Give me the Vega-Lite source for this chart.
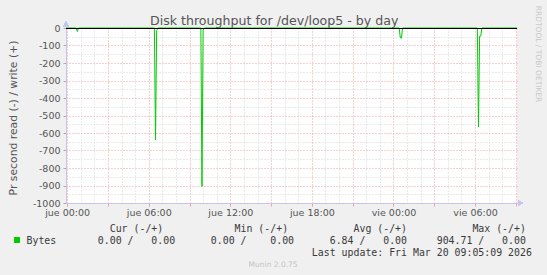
{
  "$schema": "https://vega.github.io/schema/vega-lite/v6.json",
  "width": 451,
  "height": 175,
  "autosize": {"type": "none"},
  "padding": {"left": 66, "top": 28, "right": 30, "bottom": 72},
  "background": "#f0f0f0",
  "config": {
    "view": {"fill": "#ffffff", "stroke": null},
    "axis": {"labelFont": "DejaVu Sans", "titleFont": "DejaVu Sans", "titleFontWeight": "normal"}
  },
  "data": {
    "values": [
      {"t": "2026-03-18T23:55:00", "v": 0},
      {"t": "2026-03-19T00:40:00", "v": 0},
      {"t": "2026-03-19T00:45:00", "v": -20},
      {"t": "2026-03-19T00:50:00", "v": 0},
      {"t": "2026-03-19T06:25:00", "v": 0},
      {"t": "2026-03-19T06:30:00", "v": -640},
      {"t": "2026-03-19T06:35:00", "v": -15},
      {"t": "2026-03-19T06:40:00", "v": 0},
      {"t": "2026-03-19T09:50:00", "v": 0},
      {"t": "2026-03-19T09:55:00", "v": -904.71},
      {"t": "2026-03-19T10:00:00", "v": -12},
      {"t": "2026-03-19T10:05:00", "v": 0},
      {"t": "2026-03-20T00:25:00", "v": 0},
      {"t": "2026-03-20T00:30:00", "v": -55},
      {"t": "2026-03-20T00:35:00", "v": -58},
      {"t": "2026-03-20T00:40:00", "v": 0},
      {"t": "2026-03-20T06:10:00", "v": 0},
      {"t": "2026-03-20T06:15:00", "v": -566},
      {"t": "2026-03-20T06:20:00", "v": -46},
      {"t": "2026-03-20T06:25:00", "v": -46},
      {"t": "2026-03-20T06:30:00", "v": 0},
      {"t": "2026-03-20T09:05:00", "v": 0}
    ]
  },
  "resolve": {"axis": {"x": "independent", "y": "independent"}},
  "layer": [
    {
      "mark": {"type": "line", "opacity": 0},
      "encoding": {
        "x": {
          "field": "t", "type": "temporal",
          "scale": {"domain": [{"year": 2026, "month": 3, "date": 18, "hours": 23, "minutes": 55}, {"year": 2026, "month": 3, "date": 20, "hours": 9, "minutes": 5}], "nice": false},
          "axis": {
            "orient": "bottom", "grid": true, "gridColor": "#d4d4d4", "gridDash": [1, 2], "gridWidth": 1,
            "values": [
              {"year": 2026, "month": 3, "date": 19, "hours": 1}, {"year": 2026, "month": 3, "date": 19, "hours": 2},
              {"year": 2026, "month": 3, "date": 19, "hours": 4}, {"year": 2026, "month": 3, "date": 19, "hours": 5},
              {"year": 2026, "month": 3, "date": 19, "hours": 7}, {"year": 2026, "month": 3, "date": 19, "hours": 8},
              {"year": 2026, "month": 3, "date": 19, "hours": 10}, {"year": 2026, "month": 3, "date": 19, "hours": 11},
              {"year": 2026, "month": 3, "date": 19, "hours": 13}, {"year": 2026, "month": 3, "date": 19, "hours": 14},
              {"year": 2026, "month": 3, "date": 19, "hours": 16}, {"year": 2026, "month": 3, "date": 19, "hours": 17},
              {"year": 2026, "month": 3, "date": 19, "hours": 19}, {"year": 2026, "month": 3, "date": 19, "hours": 20},
              {"year": 2026, "month": 3, "date": 19, "hours": 22}, {"year": 2026, "month": 3, "date": 19, "hours": 23},
              {"year": 2026, "month": 3, "date": 20, "hours": 1}, {"year": 2026, "month": 3, "date": 20, "hours": 2},
              {"year": 2026, "month": 3, "date": 20, "hours": 4}, {"year": 2026, "month": 3, "date": 20, "hours": 5},
              {"year": 2026, "month": 3, "date": 20, "hours": 7}, {"year": 2026, "month": 3, "date": 20, "hours": 8}
            ],
            "labels": false, "ticks": false, "domain": false,
            "title": "Munin 2.0.75", "titleFont": "DejaVu Sans", "titleFontSize": 7.5, "titleColor": "#c4c4c4",
            "titleX": 206.6, "titleY": 61, "titleAlign": "center", "titleBaseline": "middle", "titleAngle": 0
          }
        },
        "y": {
          "field": "v", "type": "quantitative",
          "scale": {"domain": [-1000, 0], "nice": false, "zero": false},
          "axis": {
            "orient": "left", "grid": true, "gridColor": "#d4d4d4", "gridDash": [1, 2], "gridWidth": 1,
            "values": [-950, -850, -750, -650, -550, -450, -350, -250, -150, -50],
            "labels": false, "ticks": false, "domain": false, "title": null
          }
        }
      }
    },
    {
      "mark": {"type": "line", "opacity": 0},
      "encoding": {
        "x": {
          "field": "t", "type": "temporal",
          "scale": {"domain": [{"year": 2026, "month": 3, "date": 18, "hours": 23, "minutes": 55}, {"year": 2026, "month": 3, "date": 20, "hours": 9, "minutes": 5}], "nice": false},
          "axis": {
            "orient": "bottom", "grid": true, "gridColor": "#f2a0a0", "gridDash": [1, 2], "gridWidth": 1,
            "values": [
              {"year": 2026, "month": 3, "date": 19, "hours": 0}, {"year": 2026, "month": 3, "date": 19, "hours": 3},
              {"year": 2026, "month": 3, "date": 19, "hours": 6}, {"year": 2026, "month": 3, "date": 19, "hours": 9},
              {"year": 2026, "month": 3, "date": 19, "hours": 12}, {"year": 2026, "month": 3, "date": 19, "hours": 15},
              {"year": 2026, "month": 3, "date": 19, "hours": 18}, {"year": 2026, "month": 3, "date": 19, "hours": 21},
              {"year": 2026, "month": 3, "date": 20, "hours": 0}, {"year": 2026, "month": 3, "date": 20, "hours": 3},
              {"year": 2026, "month": 3, "date": 20, "hours": 6}, {"year": 2026, "month": 3, "date": 20, "hours": 9}
            ],
            "labels": false, "ticks": true, "tickSize": 3, "tickColor": "#f2a0a0", "domain": false,
            "title": "Disk throughput for /dev/loop5 - by day", "titleFont": "DejaVu Sans", "titleFontSize": 12.6, "titleColor": "#555555",
            "titleX": 207.7, "titleY": -178.5, "titleAlign": "center", "titleBaseline": "alphabetic", "titleAngle": 0
          }
        },
        "y": {
          "field": "v", "type": "quantitative",
          "scale": {"domain": [-1000, 0], "nice": false, "zero": false},
          "axis": {
            "orient": "right", "grid": true, "gridColor": "#f2a0a0", "gridDash": [1, 2], "gridWidth": 1,
            "values": [-1000, -900, -800, -700, -600, -500, -400, -300, -200, -100, 0],
            "labels": false, "ticks": false, "domain": false,
            "title": "RRDTOOL / TOBI OETIKER", "titleFont": "DejaVu Sans", "titleFontSize": 7.5, "titleColor": "#c8c8c8",
            "titleX": 20.5, "titleY": 25.5, "titleAngle": 90, "titleAlign": "center", "titleBaseline": "middle"
          }
        }
      }
    },
    {
      "mark": {"type": "line", "strokeWidth": 1, "interpolate": "linear"},
      "encoding": {
        "x": {
          "field": "t", "type": "temporal",
          "scale": {"domain": [{"year": 2026, "month": 3, "date": 18, "hours": 23, "minutes": 55}, {"year": 2026, "month": 3, "date": 20, "hours": 9, "minutes": 5}], "nice": false},
          "axis": {
            "orient": "bottom", "grid": false,
            "values": [
              {"year": 2026, "month": 3, "date": 19, "hours": 0},
              {"year": 2026, "month": 3, "date": 19, "hours": 6},
              {"year": 2026, "month": 3, "date": 19, "hours": 12},
              {"year": 2026, "month": 3, "date": 19, "hours": 18},
              {"year": 2026, "month": 3, "date": 20, "hours": 0},
              {"year": 2026, "month": 3, "date": 20, "hours": 6}
            ],
            "labelExpr": "(day(datum.value) == 4 ? 'jue' : 'vie') + timeFormat(datum.value, ' %H:%M')",
            "labelFont": "DejaVu Sans", "labelFontSize": 9.5, "labelColor": "#555555", "labelPadding": 1.5,
            "ticks": true, "tickSize": 3, "tickColor": "#f2a0a0",
            "domain": true, "domainColor": "#c5c5f5", "domainWidth": 1,
            "title": [
              "\u200b\u00a0\u00a0\u00a0\u00a0\u00a0\u00a0\u00a0\u00a0\u00a0\u00a0\u00a0\u00a0\u00a0\u00a0Cur\u00a0(-/+)\u00a0\u00a0\u00a0\u00a0\u00a0\u00a0\u00a0\u00a0\u00a0\u00a0\u00a0\u00a0Min\u00a0(-/+)\u00a0\u00a0\u00a0\u00a0\u00a0\u00a0\u00a0\u00a0\u00a0\u00a0\u00a0Avg\u00a0(-/+)\u00a0\u00a0\u00a0\u00a0\u00a0\u00a0\u00a0\u00a0\u00a0\u00a0\u00a0Max\u00a0(-/+)",
              "Bytes\u00a0\u00a0\u00a0\u00a0\u00a0\u00a0\u00a00.00\u00a0/\u00a0\u00a0\u00a00.00\u00a0\u00a0\u00a0\u00a0\u00a0\u00a00.00\u00a0/\u00a0\u00a0\u00a0\u00a00.00\u00a0\u00a0\u00a0\u00a0\u00a0\u00a06.84\u00a0/\u00a0\u00a0\u00a00.00\u00a0\u00a0\u00a0\u00a0\u00a0904.71\u00a0/\u00a0\u00a0\u00a00.00",
              "\u200b\u00a0\u00a0\u00a0\u00a0\u00a0\u00a0\u00a0\u00a0\u00a0\u00a0\u00a0\u00a0\u00a0\u00a0\u00a0\u00a0\u00a0\u00a0\u00a0\u00a0\u00a0\u00a0\u00a0\u00a0\u00a0\u00a0\u00a0\u00a0\u00a0\u00a0\u00a0\u00a0\u00a0\u00a0\u00a0\u00a0\u00a0\u00a0\u00a0\u00a0\u00a0\u00a0\u00a0\u00a0\u00a0\u00a0\u00a0\u00a0Last\u00a0update:\u00a0Fri\u00a0Mar\u00a020\u00a009:05:09\u00a02026"
            ],
            "titleFont": "DejaVu Sans Mono", "titleFontSize": 9.9, "titleColor": "#3a3a3a", "titleLineHeight": 12,
            "titleX": -40, "titleY": 28.6, "titleAlign": "left", "titleBaseline": "alphabetic", "titleAngle": 0
          }
        },
        "y": {
          "field": "v", "type": "quantitative",
          "scale": {"domain": [-1000, 0], "nice": false, "zero": false},
          "axis": {
            "orient": "left", "grid": false,
            "values": [-1000, -900, -800, -700, -600, -500, -400, -300, -200, -100, 0],
            "labelExpr": "'' + datum.value",
            "labelFont": "DejaVu Sans", "labelFontSize": 9.5, "labelColor": "#555555", "labelPadding": 3,
            "ticks": true, "tickSize": 3, "tickColor": "#aaaaaa",
            "domain": true, "domainColor": "#c5c5f5", "domainWidth": 1,
            "title": "Pr second read (-) / write (+)", "titleFont": "DejaVu Sans", "titleFontSize": 10.8, "titleColor": "#555555",
            "titleX": -49.5, "titleY": 89.5, "titleAngle": -90, "titleAlign": "center", "titleBaseline": "alphabetic"
          }
        },
        "color": {
          "datum": "Bytes", "type": "nominal",
          "scale": {"domain": ["Bytes"], "range": ["#00cc00"]},
          "legend": {
            "orient": "none", "legendX": -52, "legendY": 209, "title": null, "padding": 0,
            "symbolType": "square", "symbolSize": 36, "labelExpr": "''", "labelFontSize": 1,
            "encode": {"symbols": {"update": {"fill": {"value": "#00cc00"}, "stroke": {"value": "#00cc00"}, "strokeWidth": {"value": 0}, "opacity": {"value": 1}}}}
          }
        }
      }
    },
    {
      "mark": {"type": "rule", "color": "#000000", "strokeWidth": 1, "yOffset": 0.5},
      "encoding": {
        "y": {"datum": 0, "type": "quantitative", "scale": {"domain": [-1000, 0], "nice": false, "zero": false}, "axis": null}
      }
    },
    {
      "mark": {"type": "point", "shape": "triangle-right", "size": 30, "filled": true, "color": "#c5c5f5", "opacity": 1},
      "encoding": {
        "x": {"datum": {"year": 2026, "month": 3, "date": 20, "hours": 9, "minutes": 20}, "type": "temporal", "scale": {"domain": [{"year": 2026, "month": 3, "date": 18, "hours": 23, "minutes": 55}, {"year": 2026, "month": 3, "date": 20, "hours": 9, "minutes": 5}], "nice": false}, "axis": null},
        "y": {"datum": -1000, "type": "quantitative", "scale": {"domain": [-1000, 0], "nice": false, "zero": false}, "axis": null}
      }
    },
    {
      "mark": {"type": "point", "shape": "triangle-up", "size": 30, "filled": true, "color": "#c5c5f5", "opacity": 1},
      "encoding": {
        "x": {"datum": {"year": 2026, "month": 3, "date": 18, "hours": 23, "minutes": 55}, "type": "temporal", "scale": {"domain": [{"year": 2026, "month": 3, "date": 18, "hours": 23, "minutes": 55}, {"year": 2026, "month": 3, "date": 20, "hours": 9, "minutes": 5}], "nice": false}, "axis": null},
        "y": {"datum": 23, "type": "quantitative", "scale": {"domain": [-1000, 0], "nice": false, "zero": false}, "axis": null}
      }
    }
  ]
}
